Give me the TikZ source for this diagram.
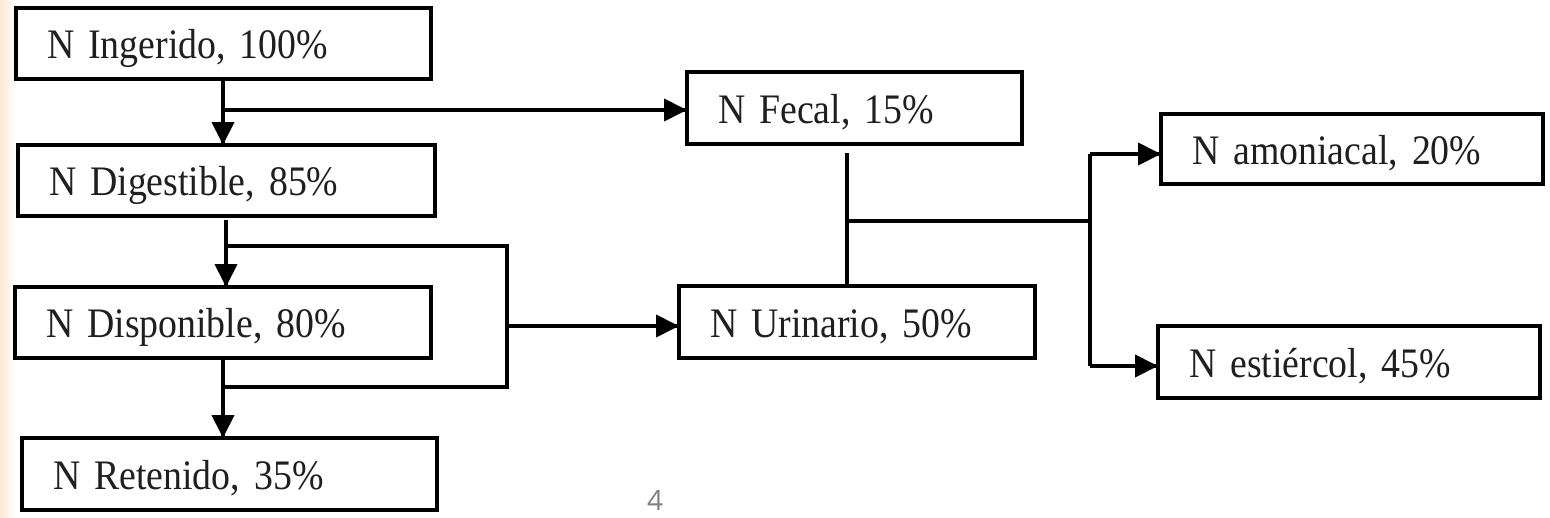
\documentclass[tikz,border=0pt]{standalone}
\usepackage{fontspec}
\setmainfont{Liberation Serif}[FakeStretch=0.9, WordSpace=0.75]
\newfontfamily\pagefont{Open Sans}
\usepackage{tikz}
\usetikzlibrary{arrows.meta}
\usetikzlibrary{decorations.markings}
\usetikzlibrary{positioning}
\tikzset{->/.style = {decoration={markings,
                                  mark=at position 1 with {\arrow{Triangle[length=23pt,width=22pt]}}},
                      postaction={decorate}}}
\tikzset{
nbox/.style={draw, line width=4.5pt, anchor=north west, outer sep=0pt,
             inner xsep=31pt, inner ysep=0pt, align=left,
             text height=40pt, text depth=10pt,
             font=\fontsize{42}{48}\selectfont, text=black!88},
flow/.style={line width=4pt},
}

\begin{document}
\begin{tikzpicture}[x=1pt, y=-1pt]
				\useasboundingbox (0,0) rectangle (1550,517);
				\shade [left color={rgb,255:red,249;green,231;blue,208}, right color=white] (0,0) rectangle (15,517);
				\node [nbox, text width=353pt, minimum height=71pt] (ing) at (16, 8) {N Ingerido, 100\%};
				\node [nbox, text width=355pt, minimum height=71pt] (dig) at (18, 145) {N Digestible, 85\%};
				\node [nbox, text width=354pt, minimum height=71pt] (dis) at (15, 287) {N Disponible, 80\%};
				\node [nbox, text width=353pt, minimum height=72pt] (ret) at (22, 438) {N Retenido, 35\%};
				\node [nbox, text width=273pt, minimum height=72pt] (fec) at (687, 72) {N Fecal, 15\%};
				\node [nbox, text width=294pt, minimum height=72pt] (uri) at (679, 286) {N Urinario, 50\%};
				\node [nbox, text width=320pt, minimum height=70pt] (amo) at (1161, 114) {N amoniacal, 20\%};
				\node [nbox, text width=320pt, minimum height=72pt] (est) at (1158, 326) {N estiércol, 45\%};
				\node [text=black!50, font=\pagefont\fontsize{28}{32}\selectfont] (pg) at (655, 500) {4};
				% left column
				\coordinate (a1) at (223, 110);
				\coordinate (a2) at (226, 246);
				\coordinate (a3) at (507, 246);
				\coordinate (a4) at (507, 387);
				\coordinate (a5) at (223, 387);
				\coordinate (a6) at (507, 326);
				\draw [flow, ->] (ing.south -| a1) to (dig.north -| a1);
				\draw [flow, ->] (a1) to (fec.west |- a1);
				\draw [flow, ->, shorten <=4pt] (dig.south -| a2) to (dis.north -| a2);
				\draw [flow] (a2) to (a3) to (a4) to (a5);
				\draw [flow, ->] (dis.south -| a5) to (ret.north -| a5);
				\draw [flow, ->] (a6) to (uri.west |- a6);
				% right part
				\coordinate (b1) at (847, 221);
				\coordinate (b2) at (1090, 221);
				\coordinate (b3) at (1090, 154);
				\coordinate (b4) at (1090, 366);
				\draw [flow, shorten <=9pt] (fec.south -| b1) to (uri.north -| b1);
				\draw [flow] (b1) to (b2);
				\draw [flow] (b3) to (b4);
				\draw [flow, ->] (b3) to (amo.west |- b3);
				\draw [flow, ->] (b4) to (est.west |- b4);
		\end{tikzpicture}
\end{document}
